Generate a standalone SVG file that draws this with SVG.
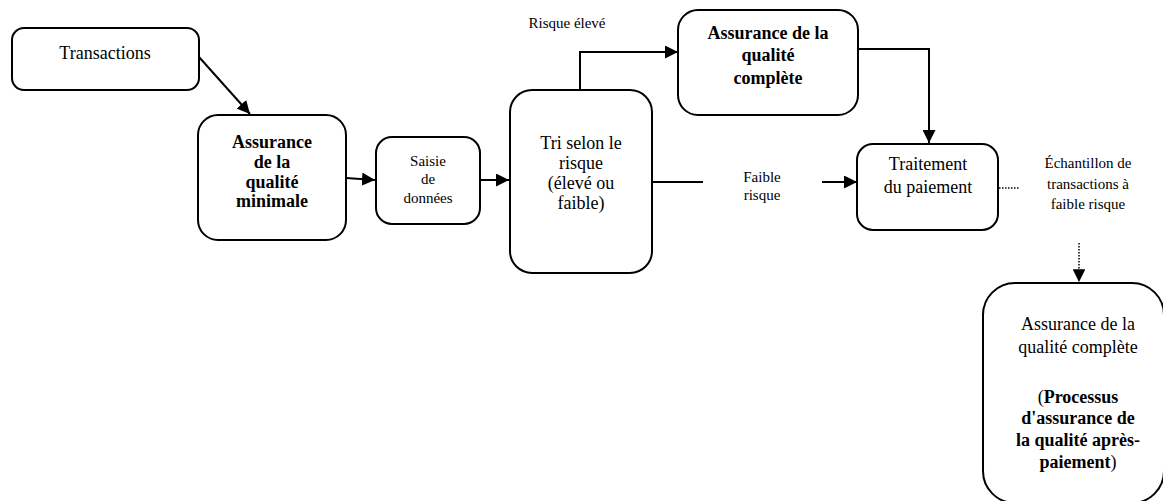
<svg xmlns="http://www.w3.org/2000/svg" width="1163" height="501" viewBox="0 0 1163 501">
<style>
.box{fill:#fff;stroke:#000;stroke-width:2}
text{font-family:'Liberation Serif','Times New Roman','DejaVu Serif',serif;fill:#000;text-anchor:middle}
.t{font-size:18px}
.s{font-size:15px}
.b{font-weight:bold}
.c{fill:none;stroke:#000;stroke-width:2}
.d{fill:none;stroke:#000;stroke-width:1.5;stroke-dasharray:1.5 1.5}
</style>
<defs>
<marker id="ah" viewBox="0 0 10 10" refX="10" refY="5" markerWidth="6.5" markerHeight="6.5" orient="auto" markerUnits="strokeWidth">
<path d="M0,0 L10,5 L0,10 z" fill="#000"/>
</marker>
<marker id="ahd" viewBox="0 0 10 10" refX="10" refY="5" markerWidth="8.5" markerHeight="8.5" orient="auto" markerUnits="strokeWidth">
<path d="M0,0 L10,5 L0,10 z" fill="#000"/>
</marker>
</defs>
<g id="connectors">
<line class="c" x1="199" y1="57" x2="250" y2="114" marker-end="url(#ah)"/>
<line class="c" x1="346" y1="178" x2="375" y2="180" marker-end="url(#ah)"/>
<line class="c" x1="480" y1="180" x2="509" y2="180" marker-end="url(#ah)"/>
<polyline class="c" points="580,90 580,52 678,52" marker-end="url(#ah)"/>
<polyline class="c" points="858,49 929,49 929,143" marker-end="url(#ah)"/>
<line class="c" x1="652" y1="182" x2="703" y2="182"/>
<line class="c" x1="822" y1="182" x2="857" y2="182" marker-end="url(#ah)"/>
<line class="d" x1="999" y1="188" x2="1019" y2="188"/>
<line class="d" x1="1079" y1="243" x2="1079" y2="282" marker-end="url(#ahd)"/>
</g>
<g id="n-transactions">
<rect class="box" x="12" y="28" width="187" height="62" rx="12"/>
<text class="t" x="105" y="59">Transactions</text>
</g>
<g id="n-aq-minimale">
<rect class="box" x="198" y="115" width="148" height="125" rx="20"/>
<text class="t b" x="272" y="148">Assurance</text>
<text class="t b" x="272" y="168">de la</text>
<text class="t b" x="272" y="188">qualité</text>
<text class="t b" x="272" y="207">minimale</text>
</g>
<g id="n-saisie">
<rect class="box" x="376" y="137" width="104" height="87" rx="16"/>
<text class="s" x="428" y="166">Saisie</text>
<text class="s" x="428" y="184">de</text>
<text class="s" x="428" y="203">données</text>
</g>
<g id="n-tri">
<rect class="box" x="510" y="90" width="142" height="183" rx="22"/>
<text class="t" x="581" y="149">Tri selon le</text>
<text class="t" x="581" y="169">risque</text>
<text class="t" x="581" y="189">(élevé ou</text>
<text class="t" x="581" y="209">faible)</text>
</g>
<g id="n-aq-complete">
<rect class="box" x="678" y="10" width="180" height="105" rx="20"/>
<text class="t b" x="768" y="39">Assurance de la</text>
<text class="t b" x="768" y="61">qualité</text>
<text class="t b" x="768" y="84">complète</text>
</g>
<g id="n-traitement">
<rect class="box" x="857" y="144" width="141" height="86" rx="16"/>
<text class="t" x="928" y="170">Traitement</text>
<text class="t" x="928" y="193">du paiement</text>
</g>
<g id="n-aq-apres">
<rect class="box" x="983" y="283" width="181" height="220" rx="32"/>
<text class="t" x="1078" y="330">Assurance de la</text>
<text class="t" x="1078" y="353">qualité complète</text>
<text class="t" x="1078" y="403">(<tspan class="b">Processus</tspan></text>
<text class="t b" x="1078" y="424">d'assurance de</text>
<text class="t b" x="1078" y="446">la qualité après-</text>
<text class="t" x="1078" y="468"><tspan class="b">paiement</tspan>)</text>
</g>
<g id="labels">
<text class="s" x="567" y="28">Risque élevé</text>
<text class="s" x="762" y="182">Faible</text>
<text class="s" x="762" y="200">risque</text>
<text class="s" x="1088" y="168">Échantillon de</text>
<text class="s" x="1088" y="189">transactions à</text>
<text class="s" x="1088" y="209">faible risque</text>
</g>
</svg>
